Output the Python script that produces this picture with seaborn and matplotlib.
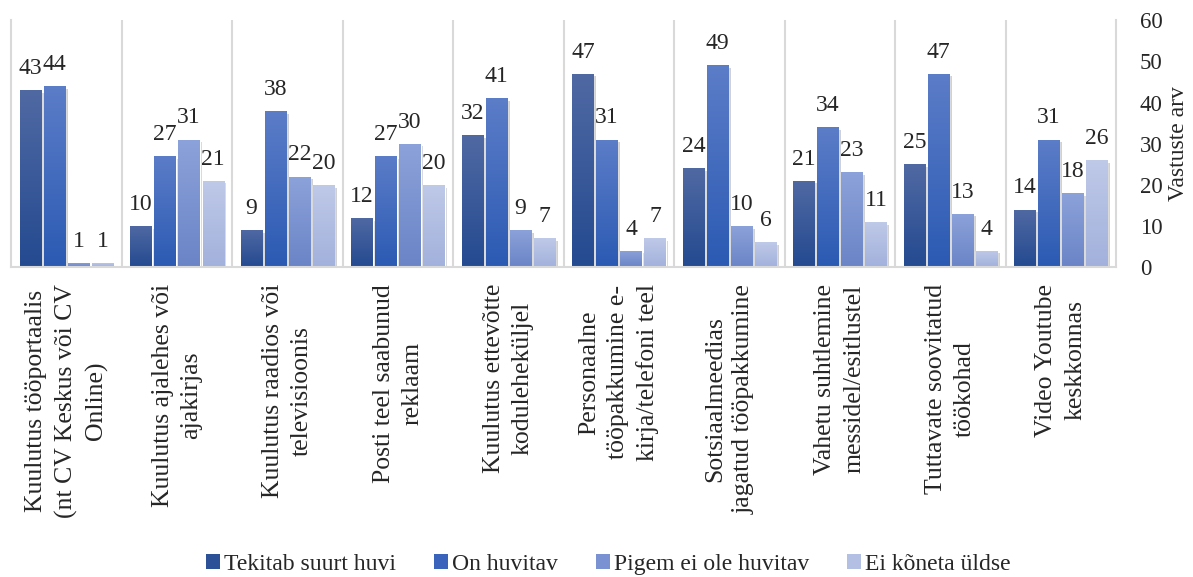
import numpy as np
import pandas as pd
import matplotlib
matplotlib.use("Agg")
import matplotlib.pyplot as plt
import matplotlib.patheffects as pe
from matplotlib.colors import LinearSegmentedColormap
from matplotlib.patches import Patch
import seaborn as sns

# data
categories = [
    "Kuulutus tööportaalis\n(nt CV Keskus või CV\nOnline)",
    "Kuulutus ajalehes või\najakirjas",
    "Kuulutus raadios või\ntelevisioonis",
    "Posti teel saabunud\nreklaam",
    "Kuulutus ettevõtte\nkoduleheküljel",
    "Personaalne\ntööpakkumine e-\nkirja/telefoni teel",
    "Sotsiaalmeedias\njagatud tööpakkumine",
    "Vahetu suhtlemine\nmessidel/esitlustel",
    "Tuttavate soovitatud\ntöökohad",
    "Video Youtube\nkeskkonnas",
]
series = ["Tekitab suurt huvi", "On huvitav", "Pigem ei ole huvitav", "Ei kõneta üldse"]
tekitab = [43, 10, 9, 12, 32, 47, 24, 21, 25, 14]
huvitav = [44, 27, 38, 27, 41, 31, 49, 34, 47, 31]
pigem_ei = [1, 31, 22, 30, 9, 4, 10, 23, 13, 18]
ei_koneta = [1, 21, 20, 20, 7, 7, 6, 11, 4, 26]

colors = ["#2c5196", "#3a63bb", "#7a92d1", "#b3bfe3"]
grads = [("#244a90", "#5069a3"), ("#2b5ab3", "#5c7dc8"),
         ("#6a84c6", "#8ca2da"), ("#a2b1dc", "#bfc9e8")]

df = pd.DataFrame({
    "kategooria": np.repeat(categories, 4),
    "seeria": series * len(categories),
    "arv": np.ravel(np.column_stack([tekitab, huvitav, pigem_ei, ei_koneta])),
})

sns.set_style("white")
plt.rcParams["font.family"] = ["Liberation Serif", "DejaVu Serif"]

fig, ax = plt.subplots(figsize=(11.93, 5.77), dpi=100)
fig.subplots_adjust(left=0.0095, right=0.9355, top=0.965, bottom=0.537)

sns.barplot(data=df, x="kategooria", y="arv", hue="seeria", hue_order=series,
            palette=colors, width=0.87, gap=0.12, legend=False, ax=ax, zorder=2)

# gradient fill + soft shadow like the excel original
grad = np.linspace(0, 1, 256).reshape(-1, 1)
for cont, (cb, ct) in zip(ax.containers, grads):
    cmap = LinearSegmentedColormap.from_list("g", [cb, ct])
    for bar in cont:
        bar.set_path_effects([pe.SimplePatchShadow(offset=(2, -2), shadow_rgbFace="k", alpha=0.18), pe.Normal()])
        x0, y0 = bar.get_xy()
        w, h = bar.get_width(), bar.get_height()
        im = ax.imshow(grad, extent=[x0, x0 + w, y0, y0 + h], origin="lower",
                       cmap=cmap, aspect="auto", zorder=2.5)
        im.set_clip_path(bar)
    ax.bar_label(cont, padding=8, fontsize=17)

ax.set_xlim(-0.5, len(categories) - 0.5)
ax.set_ylim(0, 60)
ax.set_yticks(range(0, 61, 10))
ax.yaxis.tick_right()
ax.yaxis.set_label_position("right")
ax.tick_params(axis="y", length=0, pad=17, labelsize=16.5)
ax.set_ylabel("Vastuste arv", fontsize=17, labelpad=4)
ax.set_xlabel("")

ax.set_xticks(range(len(categories)))
ax.set_xticklabels(categories, rotation=90, fontsize=18.5, ha="center", va="top",
                   multialignment="center", linespacing=1.4)
ax.tick_params(axis="x", length=0, pad=12)

for i in range(len(categories) - 1):
    ax.axvline(i + 0.5, color="#d9d9d9", lw=1.5, zorder=1)

for side in ["left", "right", "bottom"]:
    ax.spines[side].set_color("#d9d9d9")
    ax.spines[side].set_linewidth(1.5)
ax.spines["top"].set_visible(False)

handles = [Patch(facecolor=c, edgecolor="none") for c in colors]
fig.legend(handles, series, loc="center", bbox_to_anchor=(0.51, 0.022), ncol=4,
           frameon=False, fontsize=17, handlelength=0.6, handleheight=0.6,
           handletextpad=0.17, columnspacing=1.6)

fig.savefig("out.png", dpi=100)
